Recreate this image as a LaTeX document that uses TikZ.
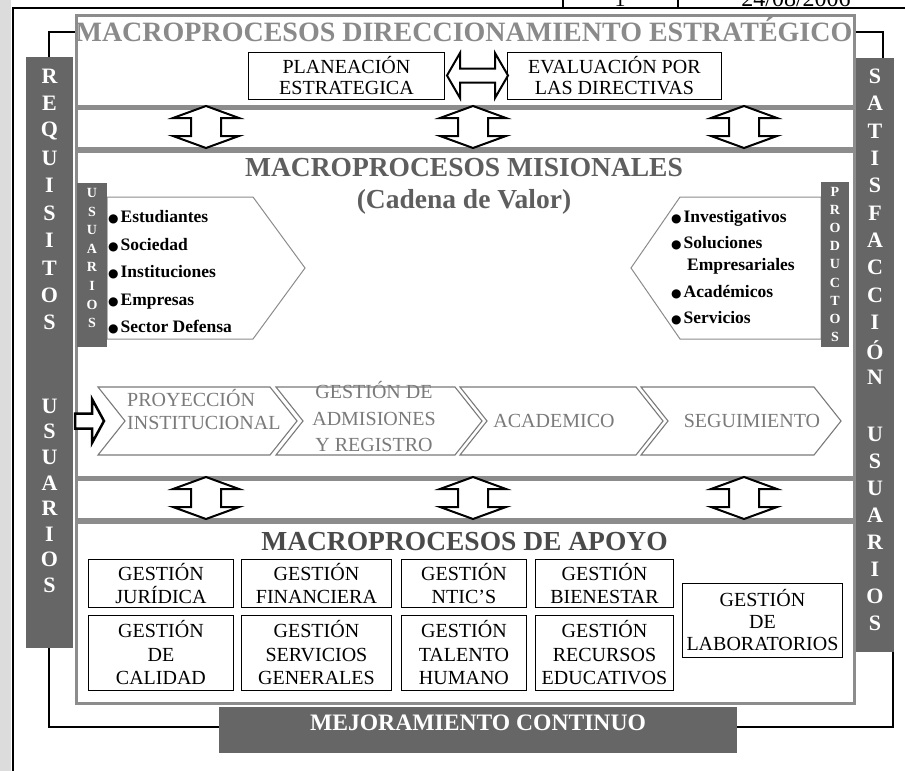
\documentclass[tikz,border=0pt]{standalone}
\usepackage{fontspec}
\setmainfont{Liberation Serif}
\newfontfamily\dejavu{DejaVu Sans}
\definecolor{bargray}{HTML}{666666}
\definecolor{framegray}{HTML}{8C8C8C}
\definecolor{stripgray}{HTML}{DCDCDC}
\definecolor{tone}{HTML}{8A8A8A}
\definecolor{ttwo}{HTML}{5E5E5E}
\definecolor{tthree}{HTML}{4A4A4A}
\definecolor{chevgray}{HTML}{7A7A7A}
\newcommand{\fsz}[2]{\fontsize{#1}{#2}\selectfont}
\newcommand{\bul}{{\dejavu\fsz{12}{12}●}\hspace{2pt}}
\tikzset{
  pbox/.style={draw=framegray, line width=2.5pt, fill=white, anchor=north west, inner sep=0pt},
  wbox/.style={draw=black, line width=0.9pt, fill=white, anchor=north west, inner sep=0pt, align=center, font={\fsz{20}{23.5}}},
  gbar/.style={fill=bargray, draw=none, anchor=north west, inner sep=0pt},
  bigletter/.style={text=white, font={\bfseries\fsz{22}{22}}, inner sep=0pt},
  smallletter/.style={text=white, font={\bfseries\fsz{14}{14}}, inner sep=0pt},
  conn/.style={line width=2.5pt, black},
  arrowshape/.style={draw=black, line width=2pt, fill=white, line join=miter},
  chevron/.style={draw=chevgray, line width=1.1pt, fill=white},
  chevtext/.style={text=chevgray, font={\fsz{20}{25}}, inner sep=0pt},
  penta/.style={draw=framegray, line width=1pt, fill=white},
  item/.style={anchor=base west, inner sep=0pt, font={\bfseries\fsz{17.5}{17.5}}},
  pics/vdbl/.style={code={\draw[arrowshape] (0,-21) -- (33,-9) -- (15,-9) -- (15,9) -- (33,9) -- (0,21) -- (-33,9) -- (-15,9) -- (-15,-9) -- (-33,-9) -- cycle;}},
  pics/hdbl/.style={code={\draw[arrowshape] (-30.5,0) -- (-17.5,-22.5) -- (-17.5,-7) -- (17.5,-7) -- (17.5,-22.5) -- (30.5,0) -- (17.5,22.5) -- (17.5,7) -- (-17.5,7) -- (-17.5,22.5) -- cycle;}},
}
\begin{document}
\begin{tikzpicture}[x=1pt,y=-1pt]
\useasboundingbox (0,0) rectangle (905,771);
\fill[white] (0,0) rectangle (905,771);
\fill[stripgray] (0,0) rectangle (11,771);

% header fragment
\draw[line width=2pt] (13,771) -- (13,8) -- (905,8);
\draw[line width=1.2pt] (563,0) -- (563,8) (678,0) -- (678,8);
\node[anchor=base, inner sep=0pt, font={\fsz{22}{22}}] (hdone) at (620,6) {1};
\node[anchor=base, inner sep=0pt, font={\fsz{24}{24}}] (hddate) at (796,6) {24/08/2006};

% main boxes
\node[pbox, minimum width=778pt, minimum height=91pt] (top) at (75,14) {};
\node[pbox, minimum width=778pt, minimum height=40pt] (bandone) at (75,107) {};
\node[pbox, minimum width=778pt, minimum height=326pt] (mis) at (75,150) {};
\node[pbox, minimum width=778pt, minimum height=40pt] (bandtwo) at (75,478) {};
\node[pbox, minimum width=778pt, minimum height=181pt] (apo) at (75,521) {};

% side bars
\node[gbar, minimum width=47pt, minimum height=591pt] (req) at (26,57) {};
\node[gbar, minimum width=38pt, minimum height=594pt] (sat) at (856,58) {};
\node[gbar, minimum width=518pt, minimum height=46pt] (mej) at (219,707) {};

% connectors
\coordinate (tl) at (49,32);
\coordinate (tr) at (883,32);
\coordinate (bl) at (49,727);
\coordinate (br) at (893,727);
\draw[conn] (tl |- req.north) -- (tl) -- (top.west |- tl);
\draw[conn] (tr |- sat.north) -- (tr) -- (top.east |- tr);
\draw[conn] (bl |- req.south) -- (bl) -- (mej.west |- bl);
\draw[conn] (br |- sat.south) -- (br) -- (mej.east |- br);

% titles
\node[anchor=base, inner sep=0pt, text=tone, font={\bfseries\fsz{28}{28}}] (ttop) at (464,41) {MACROPROCESOS DIRECCIONAMIENTO ESTRATÉGICO};
\node[anchor=base, inner sep=0pt, text=ttwo, font={\bfseries\fsz{27.5}{27.5}}] (tmis) at (464,176) {MACROPROCESOS MISIONALES};
\node[anchor=base, inner sep=0pt, text=ttwo, font={\bfseries\fsz{27.5}{27.5}}] (tcad) at (464,208) {(Cadena de Valor)};
\node[anchor=base, inner sep=0pt, text=tthree, font={\bfseries\fsz{27.5}{27.5}}] (tapo) at (464.5,550) {MACROPROCESOS DE APOYO};
\node[anchor=base, inner sep=0pt, text=white, font={\bfseries\fsz{23.6}{23.6}}] (tmej) at (478,730) {MEJORAMIENTO CONTINUO};

% top boxes
\node[wbox, minimum width=196pt, minimum height=47pt, font={\fsz{20}{21}}] (plan) at (248,52) {PLANEACIÓN\\ESTRATEGICA};
\node[wbox, minimum width=214pt, minimum height=47pt, font={\fsz{20}{21}}] (eval) at (507,52) {EVALUACIÓN POR\\LAS DIRECTIVAS};
\pic (hd) at (477.5,75.5) {hdbl};

% band arrows
\pic (ua) at (206,127) {vdbl};
\pic (ub) at (473,127) {vdbl};
\pic (uc) at (744,127) {vdbl};
\pic (da) at (206,498) {vdbl};
\pic (db) at (473,498) {vdbl};
\pic (dc) at (744,498) {vdbl};

% pentagons
\draw[penta] (107,197) -- (253,197) -- (305,268) -- (253,339) -- (107,339) -- cycle;
\draw[penta] (821,197) -- (680,197) -- (631,268) -- (680,339) -- (821,339) -- cycle;
\node[gbar, minimum width=30pt, minimum height=164pt] (usu) at (77,183) {};
\node[gbar, minimum width=28pt, minimum height=165pt] (prod) at (821,182) {};
\foreach \l [count=\i] in {U,S,U,A,R,I,O,S}
  \node[smallletter] (us\i) at (92,{193+18.6*(\i-1)}) {\l};
\foreach \l [count=\i] in {P,R,O,D,U,C,T,O,S}
  \node[smallletter] (pr\i) at (835,{192+18.1*(\i-1)}) {\l};

\node[item] (ia) at (108,222) {\bul Estudiantes};
\node[item] (ib) at (108,250) {\bul Sociedad};
\node[item] (ic) at (108,277) {\bul Instituciones};
\node[item] (id) at (108,305) {\bul Empresas};
\node[item] (ie) at (108,332) {\bul Sector Defensa};

\node[item] (pa) at (671,222) {\bul Investigativos};
\node[item] (pb) at (671,248) {\bul Soluciones};
\node[item] (pc) at (687,270) {Empresariales};
\node[item] (pd) at (671,297) {\bul Académicos};
\node[item] (pe) at (671,323) {\bul Servicios};

% chevrons
\draw[chevron] (98,387) -- (270,387) -- (297,421) -- (270,455) -- (98,455) -- (125,421) -- cycle;
\draw[chevron] (276,387) -- (455,387) -- (482,421) -- (455,455) -- (276,455) -- (303,421) -- cycle;
\draw[chevron] (460,387) -- (636,387) -- (663,421) -- (636,455) -- (460,455) -- (487,421) -- cycle;
\draw[chevron] (641,387) -- (814,387) -- (841,421) -- (814,455) -- (641,455) -- (668,421) -- cycle;
\node[chevtext, align=left, anchor=west, font={\fsz{20}{23}}] (cone) at (127,410) {PROYECCIÓN\\INSTITUCIONAL};
\node[chevtext, align=center, font={\fsz{20}{26.5}}] (ctwo) at (374,417) {GESTIÓN DE\\ADMISIONES\\Y REGISTRO};
\node[chevtext] (cthree) at (554,421) {ACADEMICO};
\node[chevtext] (cfour) at (752,421) {SEGUIMIENTO};
\draw[arrowshape, line width=2.5pt] (75,413.5) -- (92,413.5) -- (92,399) -- (104,421) -- (92,443) -- (92,428.5) -- (75,428.5) -- cycle;

% apoyo boxes
\node[wbox, minimum width=145pt, minimum height=48pt] (jur) at (88,559) {GESTIÓN\\JURÍDICA};
\node[wbox, minimum width=150pt, minimum height=48pt] (fin) at (241,559) {GESTIÓN\\FINANCIERA};
\node[wbox, minimum width=125pt, minimum height=48pt] (ntic) at (401,559) {GESTIÓN\\NTIC’S};
\node[wbox, minimum width=138pt, minimum height=48pt] (bien) at (535,559) {GESTIÓN\\BIENESTAR};
\node[wbox, minimum width=145pt, minimum height=75pt] (cal) at (88,615) {GESTIÓN\\DE\\CALIDAD};
\node[wbox, minimum width=150pt, minimum height=75pt] (serv) at (241,615) {GESTIÓN\\SERVICIOS\\GENERALES};
\node[wbox, minimum width=125pt, minimum height=75pt] (tal) at (401,615) {GESTIÓN\\TALENTO\\HUMANO};
\node[wbox, minimum width=138pt, minimum height=75pt] (rec) at (535,615) {GESTIÓN\\RECURSOS\\EDUCATIVOS};
\node[wbox, minimum width=160pt, minimum height=74pt, font={\fsz{20}{22}}] (lab) at (682,583) {GESTIÓN\\DE\\LABORATORIOS};

% side bar letters
\foreach \l [count=\i] in {R,E,Q,U,I,S,I,T,O,S}
  \node[bigletter] (rq\i) at (49.5,{76+27.4*(\i-1)}) {\l};
\foreach \l [count=\i] in {U,S,U,A,R,I,O,S}
  \node[bigletter] (ru\i) at (49.5,{406+25.6*(\i-1)}) {\l};
\foreach \l [count=\i] in {S,A,T,I,S,F,A,C,C,I,Ó,N}
  \node[bigletter] (sa\i) at (875,{76+27.4*(\i-1)}) {\l};
\foreach \l [count=\i] in {U,S,U,A,R,I,O,S}
  \node[bigletter] (su\i) at (875,{434+27*(\i-1)}) {\l};
\end{tikzpicture}
\end{document}
